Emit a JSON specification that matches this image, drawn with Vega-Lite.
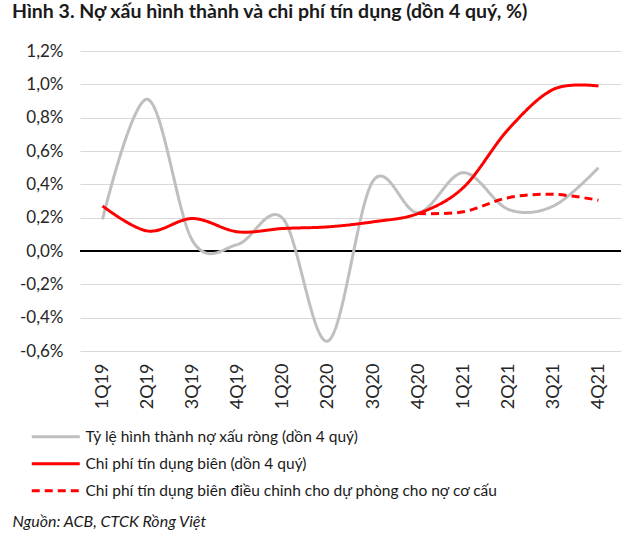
{
  "$schema": "https://vega.github.io/schema/vega-lite/v6.json",
  "width": 541,
  "height": 300,
  "autosize": {"type": "none"},
  "padding": {"left": 80, "top": 51, "right": 14, "bottom": 186},
  "background": "white",
  "title": {
    "text": "Hình 3. Nợ xấu hình thành và chi phí tín dụng (dồn 4 quý, %)",
    "anchor": "start",
    "frame": "group",
    "dx": -68,
    "offset": 20,
    "font": "Lato",
    "fontSize": 19.5,
    "fontWeight": "bold",
    "color": "#1a1a1a"
  },
  "config": {
    "view": {"stroke": null},
    "font": "Lato",
    "axisY": {
      "values": [-0.6, -0.4, -0.2, 0, 0.2, 0.4, 0.6, 0.8, 1.0, 1.2],
      "labelExpr": "replace(replace(format(datum.value, '.1f'), '.', ','), '−', '-') + '%'",
      "labelFontSize": 17,
      "labelColor": "#262626",
      "labelPadding": 17,
      "labelOverlap": false,
      "labelBound": false,
      "labelFlush": false,
      "domain": false,
      "ticks": false,
      "grid": true,
      "gridColor": "#d9d9d9",
      "gridWidth": 1,
      "title": null
    },
    "legend": {
      "orient": "none",
      "legendX": -32,
      "legendY": 378,
      "symbolType": "M-8,0H8",
      "symbolSize": 36,
      "symbolStrokeWidth": 3,
      "symbolFillColor": "transparent",
      "labelFontSize": 15.5,
      "labelColor": "#1a1a1a",
      "labelOffset": 22,
      "rowPadding": 10,
      "labelLimit": 600
    }
  },
  "data": {
    "values": [
      {"q": "1Q19", "s": "Tỷ lệ hình thành nợ xấu ròng (dồn 4 quý)", "v": 0.19},
      {"q": "2Q19", "s": "Tỷ lệ hình thành nợ xấu ròng (dồn 4 quý)", "v": 0.91},
      {"q": "3Q19", "s": "Tỷ lệ hình thành nợ xấu ròng (dồn 4 quý)", "v": 0.06},
      {"q": "4Q19", "s": "Tỷ lệ hình thành nợ xấu ròng (dồn 4 quý)", "v": 0.04},
      {"q": "1Q20", "s": "Tỷ lệ hình thành nợ xấu ròng (dồn 4 quý)", "v": 0.195},
      {"q": "2Q20", "s": "Tỷ lệ hình thành nợ xấu ròng (dồn 4 quý)", "v": -0.54},
      {"q": "3Q20", "s": "Tỷ lệ hình thành nợ xấu ròng (dồn 4 quý)", "v": 0.42},
      {"q": "4Q20", "s": "Tỷ lệ hình thành nợ xấu ròng (dồn 4 quý)", "v": 0.23},
      {"q": "1Q21", "s": "Tỷ lệ hình thành nợ xấu ròng (dồn 4 quý)", "v": 0.47},
      {"q": "2Q21", "s": "Tỷ lệ hình thành nợ xấu ròng (dồn 4 quý)", "v": 0.25},
      {"q": "3Q21", "s": "Tỷ lệ hình thành nợ xấu ròng (dồn 4 quý)", "v": 0.27},
      {"q": "4Q21", "s": "Tỷ lệ hình thành nợ xấu ròng (dồn 4 quý)", "v": 0.5},
      {"q": "1Q19", "s": "Chi phí tín dụng biên (dồn 4 quý)", "v": 0.27},
      {"q": "2Q19", "s": "Chi phí tín dụng biên (dồn 4 quý)", "v": 0.12},
      {"q": "3Q19", "s": "Chi phí tín dụng biên (dồn 4 quý)", "v": 0.195},
      {"q": "4Q19", "s": "Chi phí tín dụng biên (dồn 4 quý)", "v": 0.115},
      {"q": "1Q20", "s": "Chi phí tín dụng biên (dồn 4 quý)", "v": 0.135},
      {"q": "2Q20", "s": "Chi phí tín dụng biên (dồn 4 quý)", "v": 0.145},
      {"q": "3Q20", "s": "Chi phí tín dụng biên (dồn 4 quý)", "v": 0.175},
      {"q": "4Q20", "s": "Chi phí tín dụng biên (dồn 4 quý)", "v": 0.225},
      {"q": "1Q21", "s": "Chi phí tín dụng biên (dồn 4 quý)", "v": 0.38},
      {"q": "2Q21", "s": "Chi phí tín dụng biên (dồn 4 quý)", "v": 0.73},
      {"q": "3Q21", "s": "Chi phí tín dụng biên (dồn 4 quý)", "v": 0.97},
      {"q": "4Q21", "s": "Chi phí tín dụng biên (dồn 4 quý)", "v": 0.99},
      {"q": "4Q20", "s": "Chi phí tín dụng biên điều chỉnh cho dự phòng cho nợ cơ cấu", "v": 0.225},
      {"q": "1Q21", "s": "Chi phí tín dụng biên điều chỉnh cho dự phòng cho nợ cơ cấu", "v": 0.235},
      {"q": "2Q21", "s": "Chi phí tín dụng biên điều chỉnh cho dự phòng cho nợ cơ cấu", "v": 0.32},
      {"q": "3Q21", "s": "Chi phí tín dụng biên điều chỉnh cho dự phòng cho nợ cơ cấu", "v": 0.34},
      {"q": "4Q21", "s": "Chi phí tín dụng biên điều chỉnh cho dự phòng cho nợ cơ cấu", "v": 0.305}
    ]
  },
  "layer": [
    {
      "mark": {"type": "rule", "color": "#000000", "strokeWidth": 1},
      "encoding": {"y": {"datum": 0, "type": "quantitative"}}
    },
    {
      "mark": {"type": "line", "interpolate": "cardinal", "strokeWidth": 3},
      "encoding": {
        "x": {
          "field": "q",
          "type": "nominal",
          "sort": ["1Q19","2Q19","3Q19","4Q19","1Q20","2Q20","3Q20","4Q20","1Q21","2Q21","3Q21","4Q21"],
          "scale": {"type": "point", "padding": 0.5},
          "axis": {
            "title": "Nguồn: ACB, CTCK Rồng Việt",
            "titleFontStyle": "italic",
            "titleFontWeight": "normal",
            "titleFontSize": 16,
            "titleColor": "#1a1a1a",
            "titleAnchor": "start",
            "titleAlign": "left",
            "titleBaseline": "alphabetic",
            "titleX": -68,
            "titleY": 175,
            "labelAngle": -90,
            "labelFontSize": 18,
            "labelColor": "#262626",
            "labelPadding": 12,
            "labelOverlap": false,
            "domain": false,
            "ticks": false,
            "grid": false
          }
        },
        "y": {
          "field": "v",
          "type": "quantitative",
          "scale": {"domain": [-0.6, 1.2], "nice": false, "zero": false}
        },
        "color": {
          "field": "s",
          "type": "nominal",
          "scale": {
            "domain": ["Tỷ lệ hình thành nợ xấu ròng (dồn 4 quý)", "Chi phí tín dụng biên (dồn 4 quý)", "Chi phí tín dụng biên điều chỉnh cho dự phòng cho nợ cơ cấu"],
            "range": ["#bfbfbf", "#ff0000", "#ff0000"]
          },
          "legend": {"title": null}
        },
        "strokeDash": {
          "field": "s",
          "type": "nominal",
          "scale": {
            "domain": ["Tỷ lệ hình thành nợ xấu ròng (dồn 4 quý)", "Chi phí tín dụng biên (dồn 4 quý)", "Chi phí tín dụng biên điều chỉnh cho dự phòng cho nợ cơ cấu"],
            "range": [[1, 0], [1, 0], [8, 5]]
          },
          "legend": {"title": null}
        }
      }
    }
  ]
}
